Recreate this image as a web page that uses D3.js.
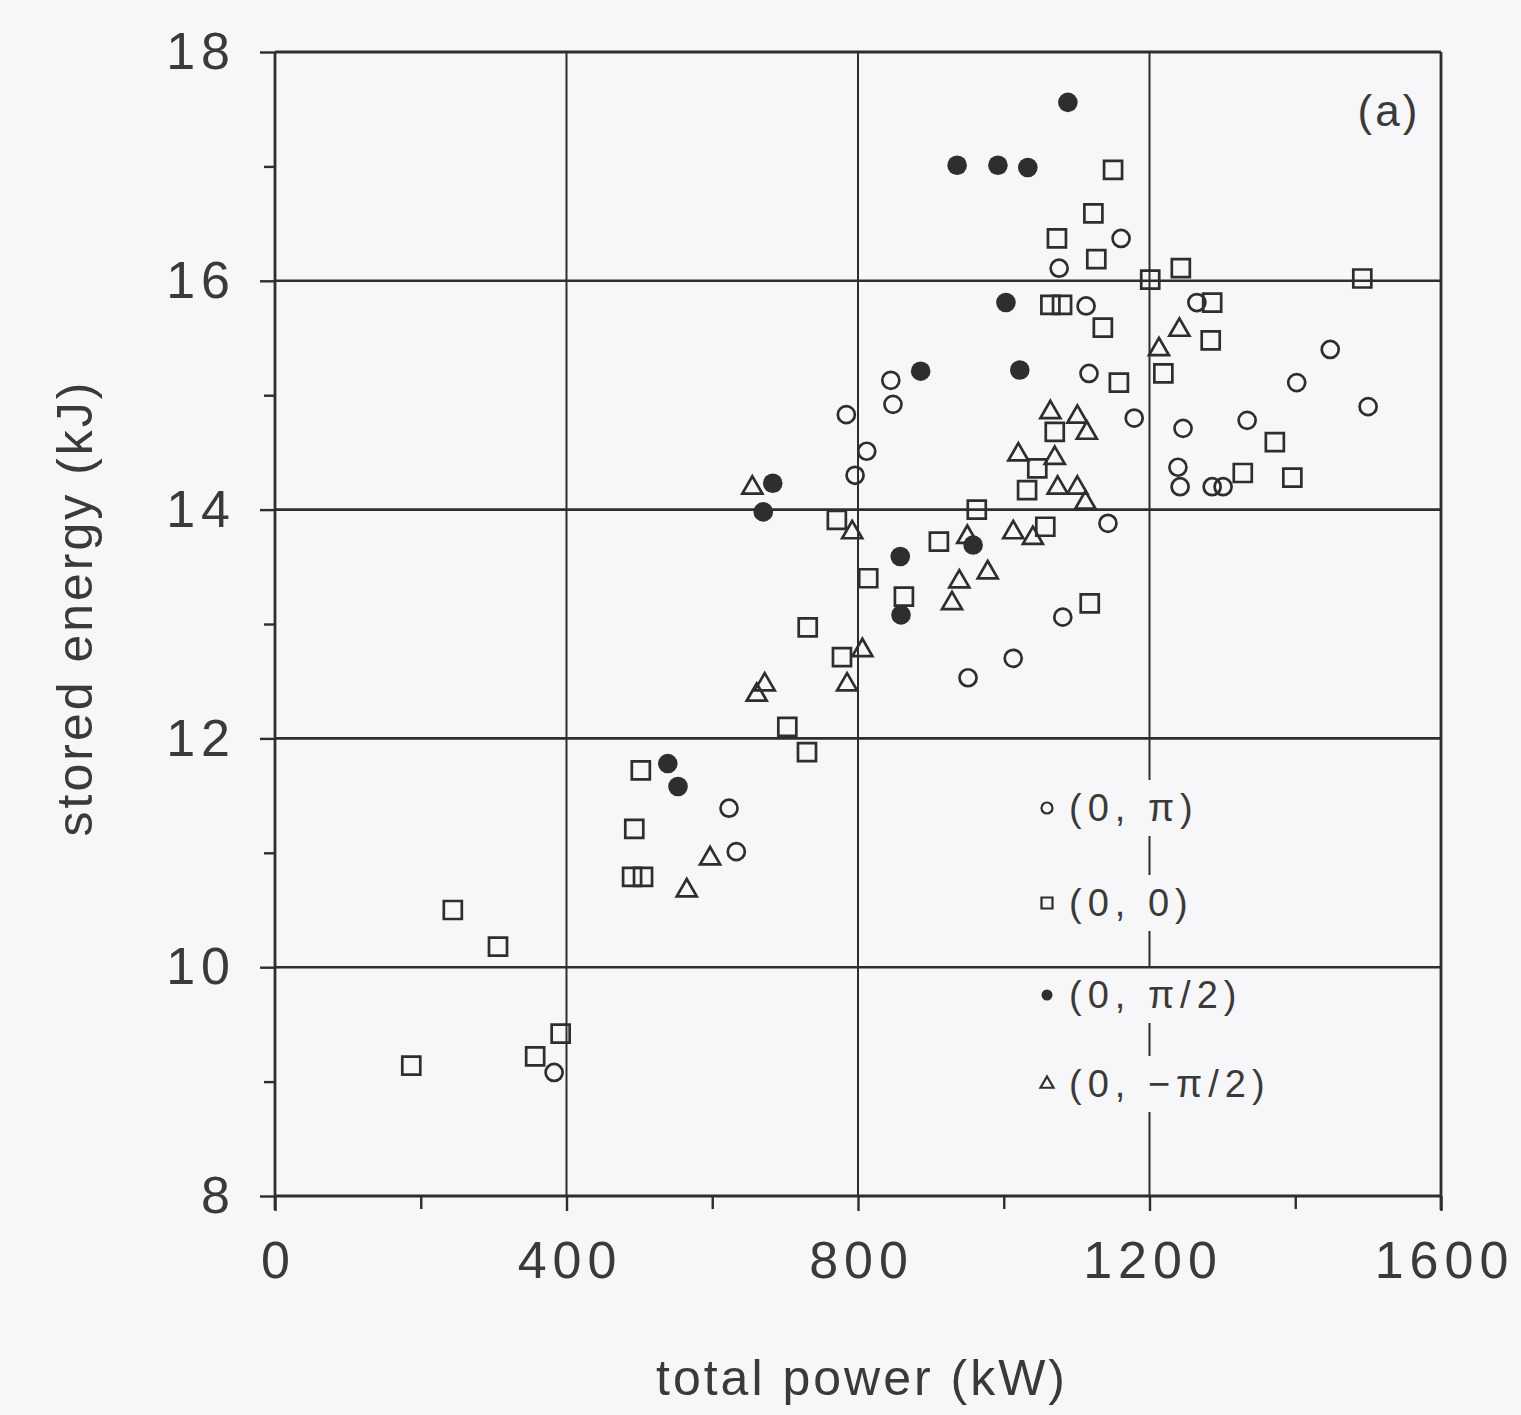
<!DOCTYPE html>
<html>
<head>
<meta charset="utf-8">
<script src="https://cdn.jsdelivr.net/npm/d3@7"></script>
<style>
  html, body { margin: 0; padding: 0; background: #f7f6f8; }
  svg { display: block; }
  text { font-family: "Liberation Sans", Arial, sans-serif; fill: #3a3a3a; }
</style>
</head>
<body>
<svg id="chart" width="1521" height="1415"></svg>
<script>
// Phase settings (0, π)
const piPower  = [784, 812, 796, 845, 848, 1076, 1161, 1113, 1117, 1179, 1265, 1246, 1334, 1402, 1448, 1500, 1239, 1242, 1286, 1301, 1143, 1081, 1013, 951, 623, 633, 383];
const piEnergy = [14.83, 14.51, 14.30, 15.13, 14.92, 16.11, 16.37, 15.78, 15.19, 14.80, 15.81, 14.71, 14.78, 15.11, 15.40, 14.90, 14.37, 14.20, 14.20, 14.20, 13.88, 13.06, 12.70, 12.53, 11.39, 11.01, 9.08];

// (0, 0)
const zeroPower  = [244, 306, 187, 357, 392, 502, 493, 490, 505, 703, 730, 731, 778, 771, 814, 863, 911, 963, 1046, 1032, 1057, 1070, 1118, 1150, 1123, 1073, 1127, 1201, 1243, 1492, 1064, 1080, 1136, 1286, 1284, 1219, 1158, 1372, 1328, 1396];
const zeroEnergy = [10.50, 10.18, 9.14, 9.22, 9.42, 11.72, 11.21, 10.79, 10.79, 12.10, 11.88, 12.97, 12.71, 13.91, 13.40, 13.24, 13.72, 14.00, 14.36, 14.17, 13.85, 14.68, 13.18, 16.97, 16.59, 16.37, 16.19, 16.01, 16.11, 16.02, 15.79, 15.79, 15.59, 15.81, 15.48, 15.19, 15.11, 14.59, 14.32, 14.28];

// (0, π/2)
const halfPiPower  = [1088, 936, 992, 1033, 1003, 886, 1022, 683, 670, 858, 958, 859, 539, 553];
const halfPiEnergy = [17.56, 17.01, 17.01, 16.99, 15.81, 15.21, 15.22, 14.23, 13.98, 13.59, 13.69, 13.08, 11.78, 11.58];

// (0, −π/2)
const negHalfPiPower  = [655, 792, 806, 785, 672, 661, 597, 565, 950, 978, 939, 929, 1013, 1040, 1020, 1070, 1074, 1101, 1112, 1064, 1101, 1114, 1213, 1241];
const negHalfPiEnergy = [14.19, 13.80, 12.77, 12.47, 12.47, 12.38, 10.95, 10.67, 13.76, 13.45, 13.37, 13.18, 13.80, 13.75, 14.48, 14.45, 14.19, 14.19, 14.06, 14.85, 14.81, 14.67, 15.40, 15.57];

// Axis ticks
const xMajorTicks = [0, 400, 800, 1200, 1600];
const xMinorTicks = [200, 600, 1000, 1400];
const yMajorTicks = [8, 10, 12, 14, 16, 18];
const yMinorTicks = [9, 11, 13, 15, 17];

const seriesLabels = ["(0, π)", "(0, 0)", "(0, π/2)", "(0, −π/2)"];

const ink = "#2e2e2e";
const svg = d3.select("#chart");

const x = d3.scaleLinear().domain([0, 1600]).range([275, 1441]);
const y = d3.scaleLinear().domain([8, 18]).range([1196, 52]);

const x0 = x(0), x1 = x(1600), yTop = y(18), yBot = y(8);

// legend layout (rows below the 12 kJ grid line)
const legendX = 1047;
const legendRows = [808, 903, 995, 1084];
const legendGap = 28;

// ---- grid lines ----
const grid = svg.append("g").attr("stroke", ink).attr("fill", "none");
[10, 12, 14, 16].forEach(v => {
  grid.append("line").attr("x1", x0).attr("x2", x1).attr("y1", y(v)).attr("y2", y(v))
    .attr("stroke-width", 2.6);
});
[400, 800].forEach(v => {
  grid.append("line").attr("x1", x(v)).attr("x2", x(v)).attr("y1", yTop).attr("y2", yBot)
    .attr("stroke-width", 2);
});
// the 1200 kW line is broken where the legend entries sit
{
  const cuts = legendRows.map(r => [r - legendGap, r + legendGap]);
  let start = yTop;
  cuts.forEach(([a, b]) => {
    grid.append("line").attr("x1", x(1200)).attr("x2", x(1200)).attr("y1", start).attr("y2", a)
      .attr("stroke-width", 2);
    start = b;
  });
  grid.append("line").attr("x1", x(1200)).attr("x2", x(1200)).attr("y1", start).attr("y2", yBot)
    .attr("stroke-width", 2);
}

// ---- frame ----
const frame = svg.append("g").attr("stroke", ink).attr("fill", "none").attr("stroke-width", 2.8);
frame.append("line").attr("x1", x0).attr("x2", x1).attr("y1", yTop).attr("y2", yTop);
frame.append("line").attr("x1", x1).attr("x2", x1).attr("y1", yTop).attr("y2", yBot + 14);
frame.append("line").attr("x1", x0).attr("x2", x1).attr("y1", yBot).attr("y2", yBot);
frame.append("line").attr("x1", x0).attr("x2", x0).attr("y1", yTop).attr("y2", yBot + 14);

// ---- axes ----
function styleAxis(g) {
  g.select(".domain").remove();
  g.selectAll(".tick line").attr("stroke", ink).attr("stroke-width", 2.4);
  g.selectAll(".tick text")
    .attr("fill", "#3a3a3a")
    .style("font-size", "52px")
    .style("letter-spacing", "6px")
    .style("font-family", "'Liberation Sans', Arial, sans-serif");
}

svg.append("g").attr("transform", `translate(${x0},0)`)
  .call(d3.axisLeft(y).tickValues(yMajorTicks).tickSize(15).tickPadding(24).tickFormat(d3.format("d")))
  .call(styleAxis);
svg.append("g").attr("transform", `translate(${x0},0)`)
  .call(d3.axisLeft(y).tickValues(yMinorTicks).tickSize(11).tickFormat(""))
  .call(styleAxis);

svg.append("g").attr("transform", `translate(0,${yBot})`)
  .call(d3.axisBottom(x).tickValues(xMajorTicks).tickSize(15).tickPadding(30).tickFormat(d3.format("d")))
  .call(styleAxis)
  .selectAll(".tick text").attr("dx", "3px");
svg.append("g").attr("transform", `translate(0,${yBot})`)
  .call(d3.axisBottom(x).tickValues(xMinorTicks).tickSize(13).tickFormat(""))
  .call(styleAxis);

// ---- axis titles ----
svg.append("text")
  .attr("x", 862).attr("y", 1395)
  .attr("text-anchor", "middle")
  .style("font-size", "50px").style("letter-spacing", "3px")
  .text("total power (kW)");

svg.append("text")
  .attr("transform", "translate(92,608) rotate(-90)")
  .attr("text-anchor", "middle")
  .style("font-size", "50px").style("letter-spacing", "3px")
  .text("stored energy (kJ)");

svg.append("text")
  .attr("x", 1389).attr("y", 126)
  .attr("text-anchor", "middle")
  .style("font-size", "44px").style("letter-spacing", "3px")
  .text("(a)");

// ---- markers ----
const series = [
  { xs: piPower,        ys: piEnergy,        type: d3.symbolCircle,   size: Math.PI * 8.5 * 8.5, legendSize: Math.PI * 5.5 * 5.5, filled: false },
  { xs: zeroPower,      ys: zeroEnergy,      type: d3.symbolSquare,   size: 18 * 18,         legendSize: 11 * 11,             filled: false },
  { xs: halfPiPower,    ys: halfPiEnergy,    type: d3.symbolCircle,   size: Math.PI * 9.8 * 9.8, legendSize: Math.PI * 5.5 * 5.5, filled: true },
  { xs: negHalfPiPower, ys: negHalfPiEnergy, type: d3.symbolTriangle, size: Math.sqrt(3) / 4 * 20 * 20, legendSize: Math.sqrt(3) / 4 * 13 * 13, filled: false }
];

const marks = svg.append("g");
series.forEach(s => {
  const path = d3.symbol().type(s.type).size(s.size)();
  marks.append("g").selectAll("path")
    .data(d3.zip(s.xs, s.ys))
    .join("path")
    .attr("d", path)
    .attr("transform", d => `translate(${x(d[0])},${y(d[1])})`)
    .attr("fill", s.filled ? ink : "none")
    .attr("stroke", ink)
    .attr("stroke-width", s.filled ? 0 : 2.7);
});

// ---- legend ----
const legend = svg.append("g");
series.forEach((s, i) => {
  const row = legend.append("g").attr("transform", `translate(${legendX},${legendRows[i]})`);
  row.append("path")
    .attr("d", d3.symbol().type(s.type).size(s.legendSize)())
    .attr("fill", s.filled ? ink : "none")
    .attr("stroke", ink)
    .attr("stroke-width", s.filled ? 0 : 2.2);
  row.append("text")
    .attr("x", 22).attr("y", 13)
    .style("font-size", "38px").style("letter-spacing", "6px")
    .text(seriesLabels[i]);
});
</script>
</body>
</html>
